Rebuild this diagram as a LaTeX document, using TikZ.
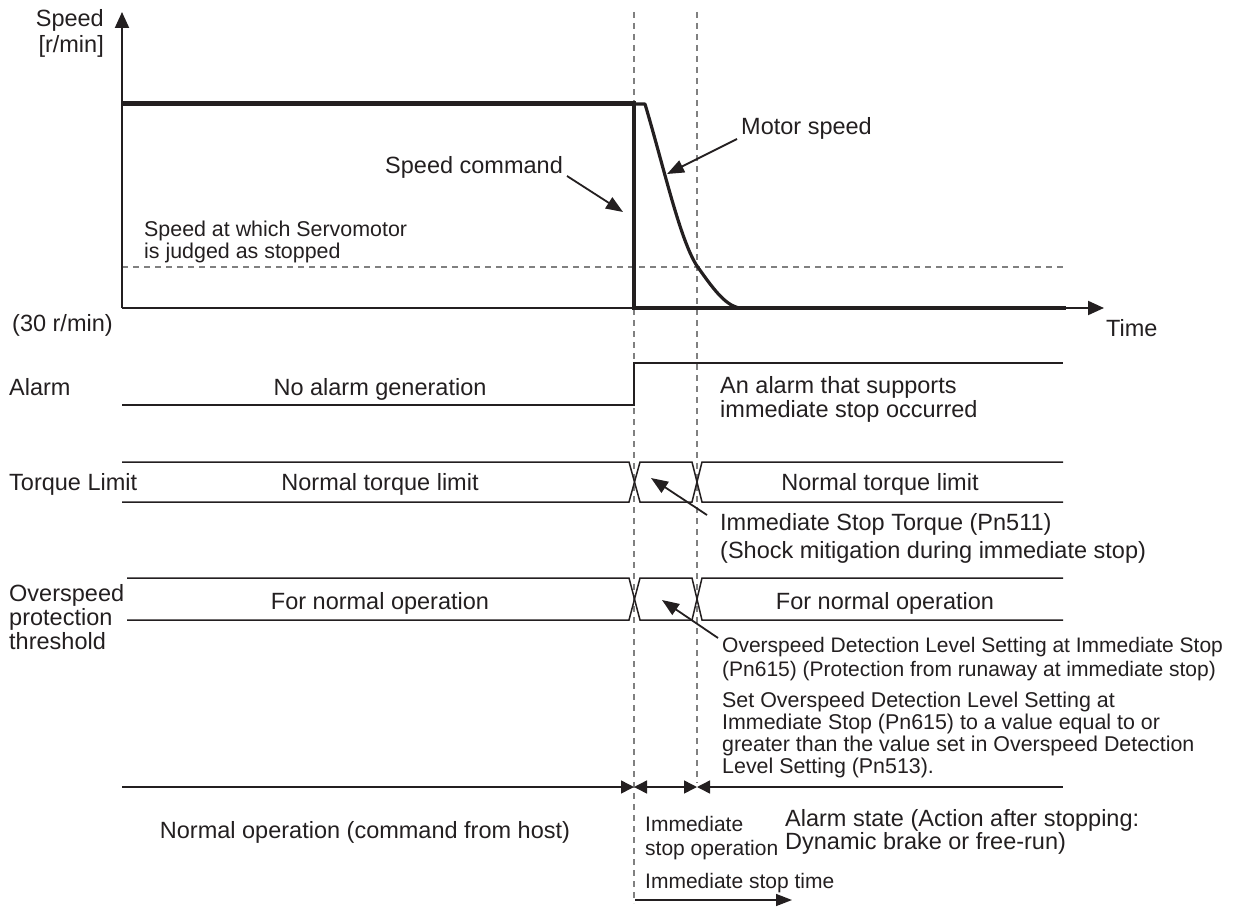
\documentclass[tikz,border=0pt]{standalone}
\usepackage{fontspec}
\setmainfont{Liberation Sans}
\usetikzlibrary{arrows.meta}
\definecolor{ink}{HTML}{231F20}
\definecolor{dashgray}{HTML}{808080}
\begin{document}
\begin{tikzpicture}[x=1pt,y=-1pt,
  lbl/.style={font=\fontsize{23.5}{24}\selectfont, inner sep=0pt, text=ink},
  note/.style={font=\fontsize{21.4}{21.7}\selectfont, inner sep=0pt, text=ink, align=left},
  sig/.style={draw=ink, line width=1.5pt},
  guide/.style={draw=dashgray, line width=1.2pt, dash pattern=on 6pt off 5pt},
  axis/.style={draw=ink, line width=2pt, -{Triangle[length=16pt,width=14pt]}},
  callout/.style={draw=ink, line width=1.8pt, -{Triangle[length=17pt,width=13pt]}},
  span/.style={draw=ink, line width=1.5pt, >={Triangle[length=13pt,width=13pt]}}
]
\useasboundingbox (0,0) rectangle (1253,907);

% guides
\coordinate (g1top) at (634,12); \coordinate (g1bot) at (634,903);
\coordinate (g2top) at (697,12); \coordinate (g2bot) at (697,783);
\draw[guide] (g1top) -- (g1bot);
\draw[guide] (g2top) -- (g2bot);
\coordinate (thl) at (122,267); \coordinate (thr) at (1063,267);
\draw[guide] (thl) -- (thr);

% axes
\coordinate (origin) at (122,308);
\coordinate (ytip) at (122,12);
\coordinate (xtip) at (1104,308);
\draw[axis] (origin) -- (ytip);
\draw[axis] (origin) -- (xtip);

% speed command
\draw[draw=ink, line width=5pt] (122,103) -- (636,103);
\draw[draw=ink, line width=4.5pt] (634,101) -- (634,308);
% motor speed
\draw[draw=ink, line width=3.2pt, line join=round]
  (634,104) -- (645,104) .. controls (664,168) and (680,240) .. (697,266)
  .. controls (712,287) and (725,306) .. (740,308);
\draw[draw=ink, line width=4pt] (632,308) -- (1066,308);

% labels top (multi-line nodes: base anchor = last line baseline)
\node[lbl, align=right, anchor=base east, font=\fontsize{23.5}{26}\selectfont] (speedlbl) at (104,53) {Speed\\{[r/min]}};
\node[lbl, anchor=base west] (cmdlbl) at (385,173) {Speed command};
\coordinate (cmdfrom) at (567,176); \coordinate (cmdto) at (623,212);
\draw[callout] (cmdfrom) -- (cmdto);
\node[lbl, anchor=base west] (motorlbl) at (741,134) {Motor speed};
\coordinate (motfrom) at (737,139); \coordinate (motto) at (667,174);
\draw[callout] (motfrom) -- (motto);
\node[note, anchor=base west] (stoplbl) at (144,258) {Speed at which Servomotor\\is judged as stopped};
\node[lbl, anchor=base west] (rpmlbl) at (12,331) {(30 r/min)};
\node[lbl, anchor=base west] (timelbl) at (1106,336) {Time};

% alarm
\node[lbl, anchor=base west] (alarmlbl) at (9,395) {Alarm};
\draw[sig] (122,405) -- (634,405) -- (634,363) -- (1063,363);
\node[lbl, anchor=base] (noalarm) at (380,395) {No alarm generation};
\node[lbl, align=left, anchor=base west] (alarmon) at (720,417) {An alarm that supports\\immediate stop occurred};

% torque
\node[lbl, anchor=base west] (torquelbl) at (9,490) {Torque Limit};
\draw[sig] (122,462) -- (629,462) -- (640,502) -- (692,502) -- (702,462) -- (1063,462);
\draw[sig] (122,502) -- (629,502) -- (640,462) -- (692,462) -- (702,502) -- (1063,502);
\node[lbl, anchor=base] (tq1) at (380,490) {Normal torque limit};
\node[lbl, anchor=base] (tq2) at (880,490) {Normal torque limit};
\node[lbl, align=left, anchor=base west, font=\fontsize{23.5}{28}\selectfont] (tqnote) at (720,558) {Immediate Stop Torque (Pn511)\\(Shock mitigation during immediate stop)};
\coordinate (tqfrom) at (707,515); \coordinate (tqto) at (651,478);
\draw[callout] (tqfrom) -- (tqto);

% overspeed
\node[lbl, align=left, anchor=base west] (oslbl) at (9,649) {Overspeed\\protection\\threshold};
\draw[sig] (127,578) -- (629,578) -- (640,620) -- (692,620) -- (702,578) -- (1063,578);
\draw[sig] (127,620) -- (629,620) -- (640,578) -- (692,578) -- (702,620) -- (1063,620);
\node[lbl, anchor=base] (os1) at (380,609) {For normal operation};
\node[lbl, anchor=base] (os2) at (885,609) {For normal operation};
\node[note, font=\fontsize{21}{24}\selectfont, anchor=base west] (osnote) at (722,676) {Overspeed Detection Level Setting at Immediate Stop\\(Pn615) (Protection from runaway at immediate stop)};
\coordinate (osfrom) at (718,638); \coordinate (osto) at (662,600);
\draw[callout] (osfrom) -- (osto);
\node[note, anchor=base west] (setnote) at (722,773) {Set Overspeed Detection Level Setting at\\Immediate Stop (Pn615) to a value equal to or\\greater than the value set in Overspeed Detection\\Level Setting (Pn513).};

% bottom phases
\coordinate (p0) at (122,787); \coordinate (p1) at (634,787);
\coordinate (p2) at (697,787); \coordinate (p3) at (1063,787);
\draw[span, ->] (p0) -- (p1);
\draw[span, <->] (p1) -- (p2);
\draw[span, <-] (p2) -- (p3);
\node[lbl, anchor=base] (normop) at (365,838) {Normal operation (command from host)};
\node[note, font=\fontsize{21}{24}\selectfont, anchor=base west] (stopop) at (645,855) {Immediate\\stop operation};
\node[lbl, align=left, anchor=base west, font=\fontsize{23.5}{23}\selectfont] (alarmst) at (785,849) {Alarm state (Action after stopping:\\Dynamic brake or free-run)};
\node[note, font=\fontsize{21}{25}\selectfont, anchor=base west] (stoptime) at (645,888) {Immediate stop time};
\coordinate (t0) at (635,900); \coordinate (t1) at (792,900);
\draw[span, -{Triangle[length=16pt,width=12pt]}] (t0) -- (t1);
\end{tikzpicture}
\end{document}
